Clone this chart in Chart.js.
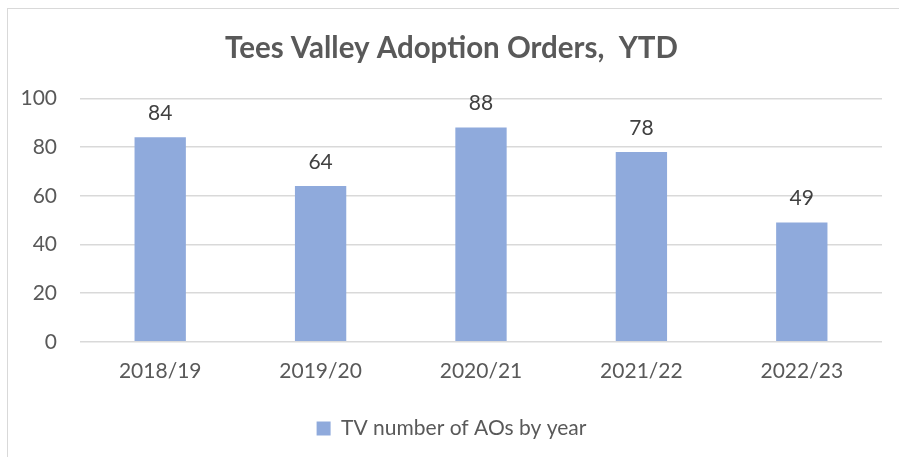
<!DOCTYPE html>
<html>
<head>
<meta charset="utf-8">
<script src="https://cdn.jsdelivr.net/npm/chart.js@4/dist/chart.umd.min.js"></script>
<style>
  html, body { margin: 0; padding: 0; background: #fff; }
  #frame { position: absolute; left: 7px; top: 8px; width: 900px; height: 460px; border: 1px solid #d9d9d9; box-sizing: border-box; }
  #wrap { position: absolute; left: 0; top: 0; width: 899px; height: 457px; }
</style>
</head>
<body>
<div id="frame"></div>
<div id="wrap"><canvas id="chart"></canvas></div>
<script>
const categories = ["2018/19", "2019/20", "2020/21", "2021/22", "2022/23"];
const aoValues = [84, 64, 88, 78, 49];
const seriesLabel = "TV number of AOs by year";
const titleText = "Tees Valley Adoption Orders,  YTD";

const textColor = "#595959";
const barColor = "#8faadc";
const fontFamily = "Lato, 'Open Sans', sans-serif";

// draws the value above each bar, using the bar elements' own positions
const valueLabels = {
  id: "valueLabels",
  afterDatasetsDraw(chart) {
    const ctx = chart.ctx;
    ctx.save();
    ctx.font = "21px " + fontFamily;
    ctx.fillStyle = "#404040";
    ctx.textAlign = "center";
    ctx.textBaseline = "middle";
    chart.getDatasetMeta(0).data.forEach((bar, i) => {
      ctx.fillText(String(chart.data.datasets[0].data[i]), bar.x, bar.y - 24);
    });
    ctx.restore();
  },
};

new Chart(document.getElementById("chart"), {
  type: "bar",
  data: {
    labels: categories,
    datasets: [
      {
        label: seriesLabel,
        data: aoValues,
        backgroundColor: barColor,
        borderWidth: 0,
        barPercentage: 0.32,
        categoryPercentage: 1,
      },
    ],
  },
  options: {
    responsive: true,
    maintainAspectRatio: false,
    animation: false,
    layout: { padding: { left: 21, right: 17, top: 0, bottom: 8 } },
    plugins: {
      title: {
        display: true,
        text: titleText,
        color: textColor,
        font: { family: fontFamily, size: 29.5, weight: "bold" },
        padding: { top: 31, bottom: 32 },
      },
      legend: {
        position: "bottom",
        labels: {
          color: textColor,
          font: { family: fontFamily, size: 21 },
          boxWidth: 14,
          boxHeight: 14,
          padding: 25,
        },
      },
      tooltip: { enabled: false },
    },
    scales: {
      x: {
        grid: { display: false },
        border: { display: false },
        ticks: { color: textColor, font: { family: fontFamily, size: 21 }, padding: 9 },
      },
      y: {
        min: 0,
        max: 100,
        afterFit: (scale) => { scale.width = 59; },
        ticks: { stepSize: 20, color: textColor, font: { family: fontFamily, size: 21 }, padding: 23 },
        grid: { color: "#d9d9d9", lineWidth: 1.5, drawTicks: false },
        border: { display: false },
      },
    },
  },
  plugins: [valueLabels],
});
</script>
</body>
</html>
